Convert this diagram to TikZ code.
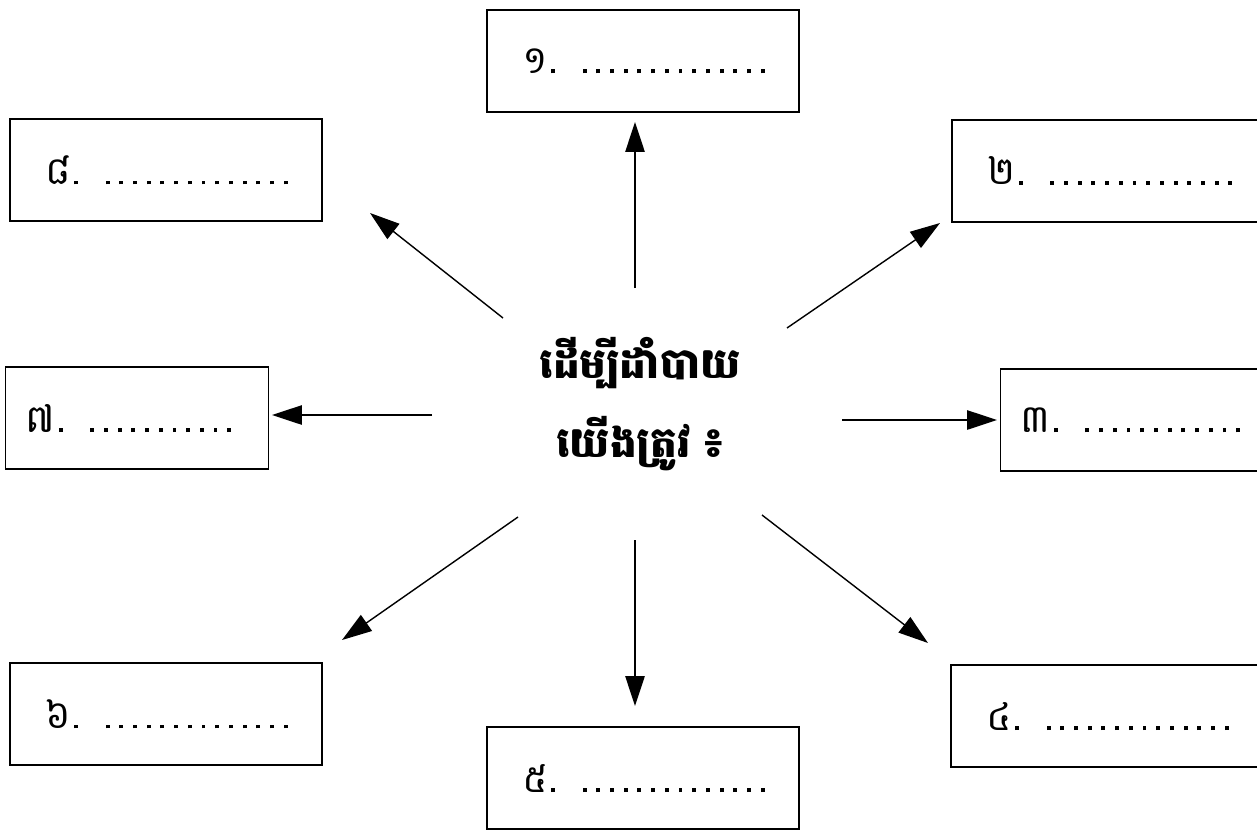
\documentclass[tikz,border=0pt]{standalone}
\usepackage{fontspec}
\usepackage{tikz}
\usetikzlibrary{arrows.meta}
\newfontfamily\khmer[Script=Khmer]{Battambang}
\newcommand{\dotrow}[1]{\hbox to \dimexpr 7.8pt*#1\relax{\xleaders\hbox to 7.8pt{\hss\rule{2.2pt}{2.2pt}\hss}\hfil}}
\newcommand{\entry}[2]{\mbox{#1\hspace{2pt}\rule{2.2pt}{2.2pt}\hspace{13pt}\dotrow{#2}}}

\begin{document}
\begin{tikzpicture}[x=0.02cm,y=-0.02cm,
    box/.style={draw,line width=0.9pt,minimum height=2.04cm,align=left,
      font=\khmer\fontsize{22}{26}\selectfont},
    wbox/.style={box,minimum width=6.24cm,inner xsep=0.7cm,text width=4.84cm},
    nbox/.style={box,minimum width=5.26cm,inner xsep=0.4cm,text width=4.46cm},
    arr/.style={line width=0.8pt,-{Triangle[length=17pt,width=11pt]}}]
    \clip (0,0) rectangle (1257,832);

    \node[font=\khmer\bfseries\fontsize{24}{45}\selectfont,align=center] (c) at (640,404)
      {ដើម្បីដាំបាយ\\យើងត្រូវ ៖};

    \node[wbox] (b1) at (643,61) {\entry{១}{14}};
    \node[wbox] (b2) at (1108,171) {\entry{២}{14}};
    \node[nbox] (b3) at (1132,420) {\entry{៣}{12}};
    \node[wbox] (b4) at (1107,716) {\entry{៤}{14}};
    \node[wbox] (b5) at (643,778) {\entry{៥}{14}};
    \node[wbox] (b6) at (166,714) {\entry{៦}{14}};
    \node[nbox] (b7) at (137,418) {\entry{៧}{11}};
    \node[wbox] (b8) at (166,170) {\entry{៨}{14}};

    % arrows out of the middle
    \foreach \n/\sx/\sy/\tx/\ty in {1/635/288/635/122, 2/787/328/940/223,
        3/842/420/997/420, 4/762/515/928/643, 5/635/540/635/706,
        6/518/517/342/640, 7/432/415/272/415, 8/503/318/370/213}{
      \coordinate (s\n) at (\sx,\sy);
      \coordinate (t\n) at (\tx,\ty);
      \draw[arr] (s\n) -- (t\n);
    }
\end{tikzpicture}
\end{document}
